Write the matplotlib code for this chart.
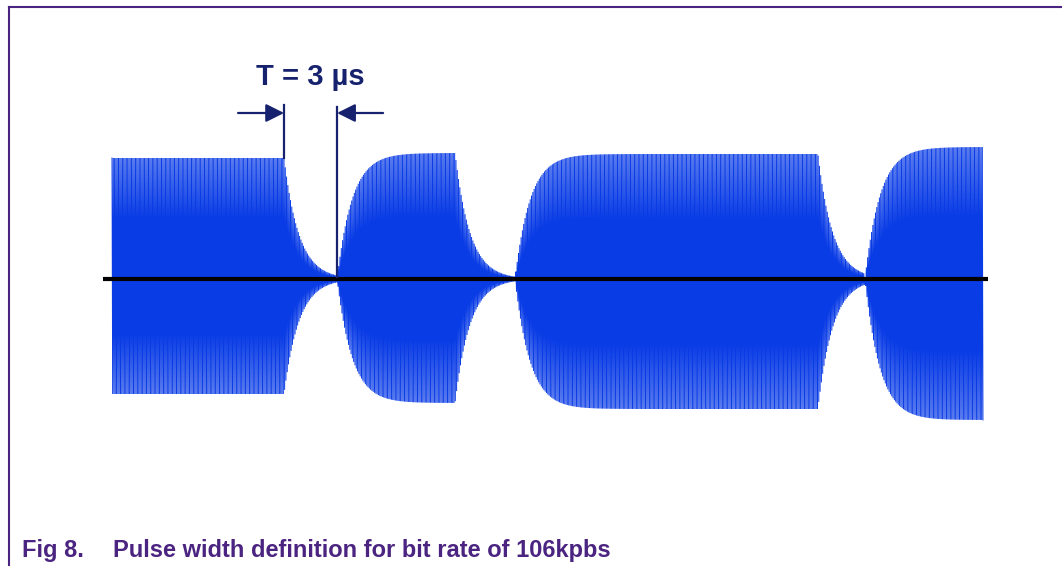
import numpy as np
import matplotlib.pyplot as plt
from matplotlib.lines import Line2D

# --------- DATA (time in µs, amplitude in arbitrary units) ---------
carrier_on = [0.0, 12.74, 22.81, 42.62]      # carrier switched on
carrier_off = [9.74, 19.42, 39.96, 49.30]    # carrier switched off (last = end of trace)
amp_upper = [1.21, 1.26, 1.25, 1.32]         # positive envelope level per burst
amp_lower = [1.15, 1.24, 1.30, 1.41]         # negative envelope level per burst
TAU = 0.85                                   # antenna time constant, µs
CARRIER_MHZ = 13.56
PULSE_LABEL = "T = 3 µs"
CAPTION_NUM = "Fig 8."
CAPTION_TXT = "Pulse width definition for bit rate of 106kpbs"

BLUE = "#0a3ce6"
NAVY = "#16226e"
PURPLE = "#4a2480"


def envelope(t, amps):
    env = np.zeros_like(t)
    for i, (ton, toff) in enumerate(zip(carrier_on, carrier_off)):
        on = (t >= ton) & (t < toff)
        if i == 0:
            env[on] = amps[i]
        else:
            env[on] = amps[i] * (1 - np.exp(-(t[on] - ton) / TAU))
        if i + 1 < len(carrier_on):
            gap = (t >= toff) & (t < carrier_on[i + 1])
            env[gap] = amps[i] * np.exp(-(t[gap] - toff) / TAU)
    return env


half_period = 0.5 / CARRIER_MHZ
t = np.arange(carrier_on[0], carrier_off[-1], half_period)
sign = np.where(np.arange(len(t)) % 2 == 0, 1.0, -1.0)
signal = np.where(sign > 0, envelope(t, amp_upper), -envelope(t, amp_lower))

# --------- FIGURE ---------
W, H = 1062, 570
fig = plt.figure(figsize=(W / 100, H / 100), dpi=100)
ax = fig.add_axes([0, 0, 1, 1])
px_per_us = 53 / 3.0
x0 = 112
ax.set_xlim(-x0 / px_per_us, (W - x0) / px_per_us)
ax.set_ylim(-(H - 279) / 100, 279 / 100)
ax.axis("off")

ax.plot(t, signal, color=BLUE, lw=0.7, solid_joinstyle="miter")
ax.plot([carrier_on[0] - 0.5, carrier_off[-1] + 0.3], [0, 0], color="black", lw=3.0,
        solid_capstyle="butt", zorder=5)

# pulse width annotation
t1, t2 = carrier_off[0], carrier_on[1]
ax.plot([t1, t1], [1.21, 1.74], color=NAVY, lw=1.6)
ax.plot([t2, t2], [0.02, 1.72], color=NAVY, lw=1.6, zorder=6)
y_arr = 1.66
ax.annotate("", xy=(t1, y_arr), xytext=(t1 - 46 / px_per_us, y_arr),
            arrowprops=dict(arrowstyle="-|>,head_length=1.1,head_width=0.55",
                            color=NAVY, lw=1.6, shrinkA=0, shrinkB=0))
ax.annotate("", xy=(t2, y_arr), xytext=(t2 + 46 / px_per_us, y_arr),
            arrowprops=dict(arrowstyle="-|>,head_length=1.1,head_width=0.55",
                            color=NAVY, lw=1.6, shrinkA=0, shrinkB=0))
ax.text((t1 + t2) / 2, 2.02, PULSE_LABEL, ha="center", va="center",
        fontsize=21, fontweight="bold", color=NAVY, family="Liberation Sans")

# frame and caption
fig.add_artist(Line2D([9 / W, 1], [1 - 7 / H, 1 - 7 / H], color=PURPLE, lw=1.5))
fig.add_artist(Line2D([9 / W, 9 / W], [1 - 7 / H, 1 - 565 / H], color=PURPLE, lw=1.5))
fig.text(22 / W, 1 - 550 / H, CAPTION_NUM, ha="left", va="center", fontsize=17,
         fontweight="bold", color=PURPLE, family="Liberation Sans")
fig.text(113 / W, 1 - 550 / H, CAPTION_TXT, ha="left", va="center", fontsize=17,
         fontweight="bold", color=PURPLE, family="Liberation Sans")

fig.savefig("out.png", dpi=100)
